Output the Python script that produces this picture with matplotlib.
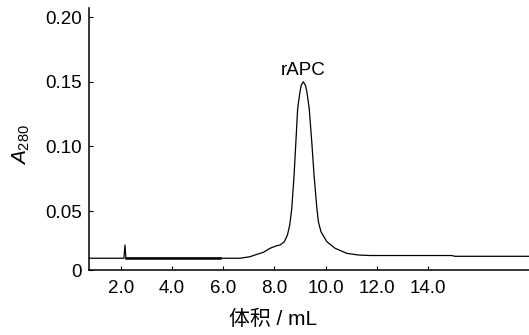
import numpy as np
import matplotlib
matplotlib.use('Agg')
import matplotlib.pyplot as plt

plt.rcParams['font.family'] = ['Liberation Sans', 'Noto Sans CJK SC', 'DejaVu Sans']
plt.rcParams['mathtext.fontset'] = 'custom'
plt.rcParams['mathtext.rm'] = 'Liberation Sans'
plt.rcParams['mathtext.it'] = 'Liberation Sans:italic'

# 洗脱曲线 (体积 mL, A280)
volume = [0.75, 2.12, 2.16, 2.20, 5.88, 6.66, 7.05, 7.24, 7.57, 7.83, 8.09, 8.22, 8.39,
          8.51, 8.60, 8.68, 8.77, 8.84, 8.91, 9.00, 9.05, 9.13, 9.21, 9.27, 9.36, 9.46,
          9.55, 9.66, 9.72, 9.82, 10.05, 10.37, 10.83, 11.28, 11.74, 14.93, 15.06, 17.95]
a280 = [0.0135, 0.0135, 0.0237, 0.0135, 0.0135, 0.0135, 0.0147, 0.0160, 0.0181, 0.0212,
        0.0232, 0.0237, 0.0263, 0.0315, 0.0392, 0.0521, 0.0778, 0.1036, 0.1294, 0.1422,
        0.1474, 0.1499, 0.1474, 0.1422, 0.1294, 0.1036, 0.0778, 0.0521, 0.0417, 0.0340,
        0.0263, 0.0212, 0.0173, 0.0160, 0.0156, 0.0156, 0.0150, 0.0150]

xticks = [2.0, 4.0, 6.0, 8.0, 10.0, 12.0, 14.0]
yticks = [0.05, 0.10, 0.15, 0.20]
peak_label = 'rAPC'

fig = plt.figure(figsize=(5.29, 3.35), dpi=100)
ax = fig.add_axes([0.168, 0.194, 0.832, 0.781])

ax.plot(volume, a280, color='black', lw=0.9, solid_joinstyle='round')
# 2~6 mL 之间基线较粗
ax.plot(volume[3:5], a280[3:5], color='black', lw=1.8)

ipk = int(np.argmax(a280))
ax.annotate(peak_label, xy=(volume[ipk], a280[ipk]), xytext=(0, 5),
            textcoords='offset points', ha='center', va='baseline', fontsize=13.5)

ymin = 0.0044
ax.set_xlim(0.75, 17.95)
ax.set_ylim(ymin, 0.2067)
ax.set_xticks(xticks)
ax.set_xticklabels(['%.1f' % t for t in xticks])
ax.set_yticks([ymin] + yticks)
ax.set_yticklabels(['0'] + ['%.2f' % t for t in yticks])

for s in ['top', 'right']:
    ax.spines[s].set_visible(False)
for s in ['left', 'bottom']:
    ax.spines[s].set_linewidth(1.1)

ax.tick_params(axis='both', direction='in', length=3, width=0.8, labelsize=13.5)
ax.tick_params(axis='x', pad=7)
ax.tick_params(axis='y', pad=5)

ax.set_xlabel('体积 / mL', fontsize=15)
ax.xaxis.set_label_coords(0.418, -0.153)
ax.set_ylabel('$A_{280}$', fontsize=15)
ax.yaxis.set_label_coords(-0.13, 0.48)

fig.savefig('out.png', dpi=100)
